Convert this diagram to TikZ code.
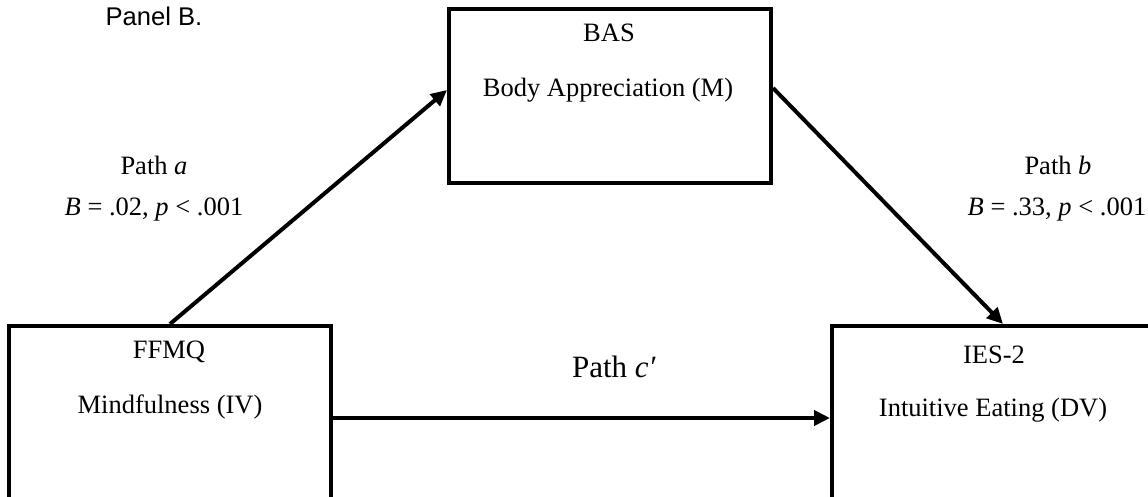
\documentclass[tikz,border=0pt]{standalone}
\usepackage{fontspec}
\setmainfont{Liberation Serif}
\newfontfamily\panelfont{Liberation Sans}
\usetikzlibrary{arrows.meta}
\begin{document}
\begin{tikzpicture}[x=0.5pt, y=-0.5pt]
	\tikzstyle{Box} = [rectangle, draw, line width=2pt, minimum width=161pt, minimum height=92pt, inner sep=0pt]
	\tikzstyle{Text} = [inner sep=0pt, font=\fontsize{13.25}{16}\selectfont]
	\tikzstyle{Arrow} = [line width=2pt, -{Triangle[length=8pt, width=7.5pt]}]
	\useasboundingbox (0,0) rectangle (1148,497);
	\clip (0,0) rectangle (1148,497);
	\node (Panel) at (154,16) [inner sep=0pt, font=\panelfont\fontsize{12.8}{15}\selectfont] {Panel B.};
	\node (BAS) at (610,96) [Box, minimum height=87pt] {};
	\node (FFMQ) at (170,418) [Box] {};
	\node (IES) at (993,418) [Box] {};
	\node (BAStitle) at (609,33) [Text] {BAS};
	\node (BASname) at (608,90) [Text] {Body Appreciation (M)};
	\node (FFMQtitle) at (169,352) [Text] {FFMQ};
	\node (FFMQname) at (170,407) [Text] {Mindfulness (IV)};
	\node (IEStitle) at (994,355) [Text] {IES-2};
	\node (IESname) at (993,410) [Text] {Intuitive Eating (DV)};
	\node (Patha) at (154,165) [Text] {Path \textit{a}};
	\node (Coefa) at (154,210) [Text] {\textit{B} = .02, \textit{p} < .001};
	\node (Pathb) at (1058,165) [Text] {Path \textit{b}};
	\node (Coefb) at (1057,210) [Text] {\textit{B} = .33, \textit{p} < .001};
	\node (Pathc) at (614,367) [Text, font=\fontsize{15.5}{18}\selectfont] {Path \textit{c′}};
	\draw [Arrow] (FFMQ.north) to ([yshift=3pt]BAS.west);
	\draw [Arrow] ([yshift=4pt]BAS.east) to ([xshift=5pt]IES.north);
	\draw [Arrow] (FFMQ.east) to (IES.west);
\end{tikzpicture}
\end{document}
